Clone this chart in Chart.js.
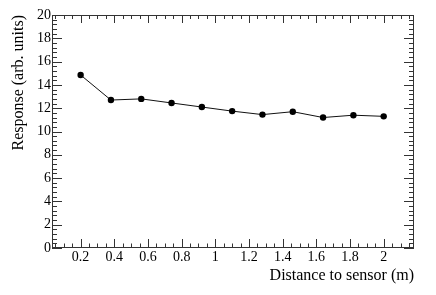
<!DOCTYPE html>
<html>
<head>
<meta charset="utf-8">
<script src="https://cdn.jsdelivr.net/npm/chart.js@4/dist/chart.umd.min.js"></script>
<style>
  html, body { margin: 0; padding: 0; background: #fff; }
  #chart { display: block; }
</style>
</head>
<body>
<canvas id="chart" width="436" height="295"></canvas>
<script>
// Data
const distance = [0.2, 0.38, 0.56, 0.74, 0.92, 1.1, 1.28, 1.46, 1.64, 1.82, 2.0];
const response = [14.85, 12.7, 12.8, 12.45, 12.1, 11.75, 11.45, 11.7, 11.2, 11.4, 11.3];

// Axis tick values
const xTickValues = [0.2, 0.4, 0.6, 0.8, 1, 1.2, 1.4, 1.6, 1.8, 2];
const yTickValues = [0, 2, 4, 6, 8, 10, 12, 14, 16, 18, 20];

const FONT = 'Liberation Serif';

// Draws the ROOT-style frame with inward major/minor ticks on all four sides
const frameTicks = {
    id: 'frameTicks',
    afterDraw(chart) {
        const { ctx, chartArea: a, scales } = chart;
        const xs = scales.x, ys = scales.y;
        ctx.save();
        ctx.strokeStyle = '#333';
        ctx.lineWidth = 1;
        ctx.strokeRect(Math.round(a.left) + 0.5, Math.round(a.top) + 0.5,
            Math.round(a.right - a.left) - 1, Math.round(a.bottom - a.top) - 1);

        ctx.beginPath();
        // x ticks every 0.05, major every 0.2
        for (let i = 0; i <= 60; i++) {
            const v = i * 0.05;
            if (v < xs.min || v > xs.max) continue;
            const major = i % 4 === 0;
            const px = Math.round(xs.getPixelForValue(v)) + 0.5;
            const lb = major ? 9 : 4.5;
            const lt = major ? 8 : 4;
            ctx.moveTo(px, a.bottom);
            ctx.lineTo(px, a.bottom - lb);
            ctx.moveTo(px, a.top);
            ctx.lineTo(px, a.top + lt);
        }
        // y ticks every 0.4, major every 2
        for (let i = 0; i <= 50; i++) {
            const v = i * 0.4;
            const major = i % 5 === 0;
            const py = Math.round(ys.getPixelForValue(v)) + 0.5;
            const l = major ? 10 : 5;
            ctx.moveTo(a.left, py);
            ctx.lineTo(a.left + l, py);
            ctx.moveTo(a.right, py);
            ctx.lineTo(a.right - l, py);
        }
        ctx.stroke();
        ctx.restore();
    }
};

new Chart(document.getElementById('chart'), {
    type: 'scatter',
    data: {
        datasets: [{
            data: distance.map((d, i) => ({ x: d, y: response[i] })),
            showLine: true,
            borderColor: '#111',
            borderWidth: 1,
            backgroundColor: '#000',
            pointRadius: 3.2,
            pointBorderWidth: 0
        }]
    },
    options: {
        responsive: false,
        animation: false,
        devicePixelRatio: 1,
        layout: { padding: { top: 15, right: 22, bottom: 0, left: 0 } },
        plugins: {
            legend: { display: false },
            tooltip: { enabled: false }
        },
        scales: {
            x: {
                type: 'linear',
                min: 0.03,
                max: 2.18,
                grid: { display: false, drawTicks: false },
                border: { display: false },
                afterBuildTicks: s => { s.ticks = xTickValues.map(v => ({ value: v })); },
                afterFit: s => { s.height = 47; },
                ticks: {
                    padding: 1,
                    color: '#000',
                    font: { family: FONT, size: 14 },
                    maxRotation: 0,
                    callback: v => String(v)
                },
                title: {
                    display: true,
                    text: 'Distance to sensor (m)',
                    align: 'end',
                    color: '#000',
                    font: { family: FONT, size: 16 },
                    padding: { top: 0, bottom: 10 }
                }
            },
            y: {
                min: 0,
                max: 20,
                grid: { display: false, drawTicks: false },
                border: { display: false },
                afterBuildTicks: s => { s.ticks = yTickValues.map(v => ({ value: v })); },
                afterFit: s => { s.width = 52; },
                ticks: {
                    padding: 1,
                    color: '#000',
                    font: { family: FONT, size: 14 },
                    callback: v => String(v)
                },
                title: {
                    display: true,
                    text: 'Response (arb. units)',
                    align: 'end',
                    color: '#000',
                    font: { family: FONT, size: 16 },
                    padding: { top: 9, bottom: 0 }
                }
            }
        }
    },
    plugins: [frameTicks]
});
</script>
</body>
</html>
